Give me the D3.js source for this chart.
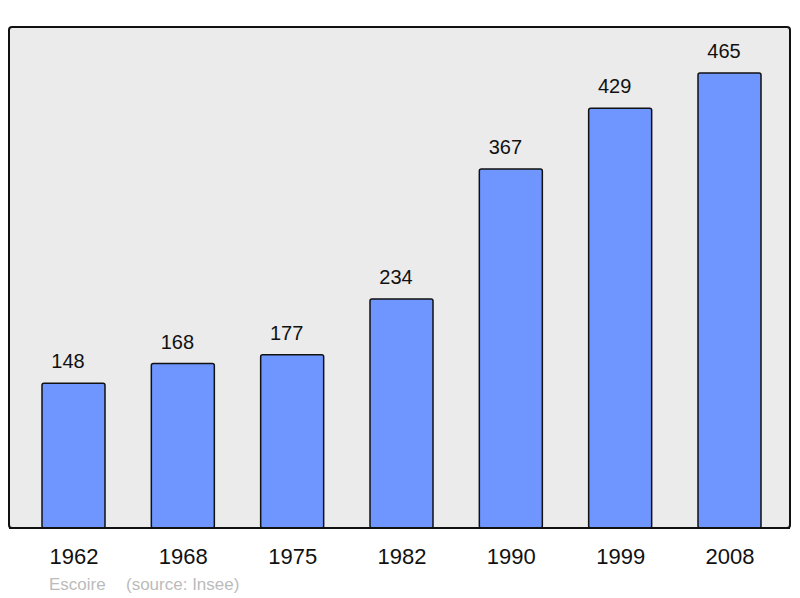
<!DOCTYPE html>
<html>
<head>
<meta charset="utf-8">
<script src="https://cdn.jsdelivr.net/npm/d3@7"></script>
<style>
  body { margin: 0; background: #fff; }
  text { font-family: "Liberation Sans", Arial, sans-serif; }
</style>
</head>
<body>
<svg id="chart" width="800" height="598"></svg>
<script>
const years = ['1962', '1968', '1975', '1982', '1990', '1999', '2008'];
const population = [148, 168, 177, 234, 367, 429, 465];
const footerName = 'Escoire';
const footerSource = '(source: Insee)';

const svg = d3.select('#chart');

// panel
var panel = {left: 9, top: 27, right: 790, bottom: 528};

svg.append('rect')
    .attr('x', panel.left)
    .attr('y', panel.top)
    .attr('width', panel.right - panel.left)
    .attr('height', panel.bottom - panel.top)
    .attr('rx', 3)
    .style('fill', '#ebebeb')
    .style('stroke', '#111')
    .style('stroke-width', 2);

var x = d3.scalePoint().domain(years).range([73.5, 729.5]);
var y = d3.scaleLinear().domain([0, 465]).range([panel.bottom, 73]);
var barWidth = 63;

var data = years.map(function(d, i) { return {year: d, value: population[i]}; });

svg.selectAll('.bar')
    .data(data)
    .enter().append('rect')
    .attr('class', 'bar')
    .attr('x', function(d) { return x(d.year) - barWidth / 2; })
    .attr('y', function(d) { return y(d.value); })
    .attr('width', barWidth)
    .attr('height', function(d) { return panel.bottom - y(d.value); })
    .attr('rx', 2)
    .style('fill', '#6f96ff')
    .style('stroke', '#111')
    .style('stroke-width', 1.5);

// redraw bottom border over bar strokes
svg.append('line')
    .attr('x1', panel.left).attr('x2', panel.right)
    .attr('y1', panel.bottom).attr('y2', panel.bottom)
    .style('stroke', '#111')
    .style('stroke-width', 2);

// value labels sit a bit left of the bar centre
svg.selectAll('.value')
    .data(data)
    .enter().append('text')
    .attr('class', 'value')
    .attr('x', function(d) { return x(d.year) - 5.5; })
    .attr('y', function(d) { return y(d.value) - 15; })
    .attr('text-anchor', 'middle')
    .style('font-size', '20px')
    .style('fill', '#111')
    .text(function(d) { return d.value; });

// x axis labels
var xAxis = d3.axisBottom(x).tickSize(0).tickPadding(0);
var gx = svg.append('g')
    .attr('transform', 'translate(0,' + 548 + ')')
    .call(xAxis);
gx.select('.domain').remove();
gx.selectAll('text')
    .style('font-family', '"Liberation Sans", Arial, sans-serif')
    .style('font-size', '22px')
    .style('fill', '#111');

svg.append('text')
    .attr('x', 49)
    .attr('y', 590)
    .style('font-size', '17px')
    .style('fill', '#bbb')
    .text(footerName);

svg.append('text')
    .attr('x', 126)
    .attr('y', 590)
    .style('font-size', '17px')
    .style('fill', '#bbb')
    .text(footerSource);
</script>
</body>
</html>
